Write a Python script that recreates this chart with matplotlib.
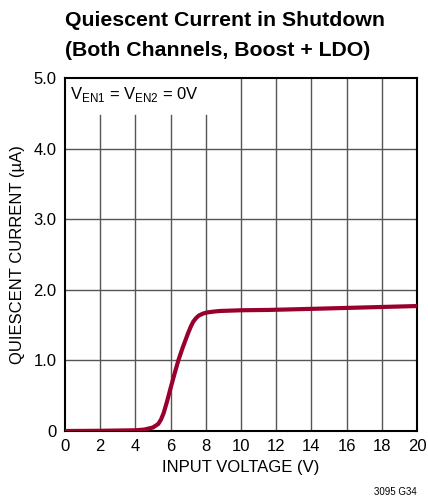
import matplotlib
matplotlib.use("Agg")
import matplotlib.pyplot as plt
import numpy as np

vin = [0, 2, 4, 4.5, 5.0, 5.3, 5.45, 5.6, 5.8, 5.97, 6.2, 6.44, 6.7, 7.0, 7.15, 7.29, 7.45, 7.6, 7.86, 8.1, 8.4, 8.8, 10, 11.6, 14, 17, 20]
iq = [0.0, 0.003, 0.01, 0.02, 0.05, 0.10, 0.16, 0.25, 0.42, 0.58, 0.79, 1.0, 1.19, 1.39, 1.48, 1.55, 1.60, 1.635, 1.665, 1.68, 1.69, 1.70, 1.71, 1.715, 1.73, 1.75, 1.77]

fam = ['Liberation Sans', 'DejaVu Sans']
plt.rcParams['font.family'] = fam

fig = plt.figure(figsize=(4.28, 4.98), dpi=100)
W, H = 428, 498
ax = fig.add_axes([65 / W, 1 - 431 / H, (417 - 65) / W, (431 - 78) / H])
ax.set_xlim(0, 20)
ax.set_ylim(0, 5)

gc = '#555555'
for x in range(2, 20, 2):
    top = 4.48 if x <= 8 else 5.0
    ax.axvline(x, ymin=0, ymax=top / 5.0, color=gc, lw=1, zorder=1)
for y in [1, 2, 3, 4]:
    ax.axhline(y, color=gc, lw=1, zorder=1)

ax.plot(vin, iq, color='#99002e', lw=3, solid_capstyle='round', solid_joinstyle='round', zorder=3)

for s in ax.spines.values():
    s.set_linewidth(1.5)
    s.set_color('black')

ax.set_xticks(range(0, 21, 2))
ax.set_yticks([0, 1, 2, 3, 4, 5])
ax.set_yticklabels(['0', '1.0', '2.0', '3.0', '4.0', '5.0'])
ax.tick_params(length=0, labelsize=12, pad=6)
ax.set_xlabel('INPUT VOLTAGE (V)', fontsize=12, labelpad=4)
ax.set_ylabel('QUIESCENT CURRENT (µA)', fontsize=12, labelpad=6)

ax.text(0.3, 4.76, r'V$_{\mathregular{EN1}}$ = V$_{\mathregular{EN2}}$ = 0V', fontsize=12, va='center', ha='left')

fig.text(65 / W, 1 - 20 / H, 'Quiescent Current in Shutdown', fontsize=15.3, fontweight='bold', va='center', ha='left')
fig.text(65 / W, 1 - 50 / H, '(Both Channels, Boost + LDO)', fontsize=15.3, fontweight='bold', va='center', ha='left')
fig.text(417 / W, 1 - 492 / H, '3095 G34', fontsize=7, ha='right', va='center')

fig.savefig('out.png', dpi=100)
